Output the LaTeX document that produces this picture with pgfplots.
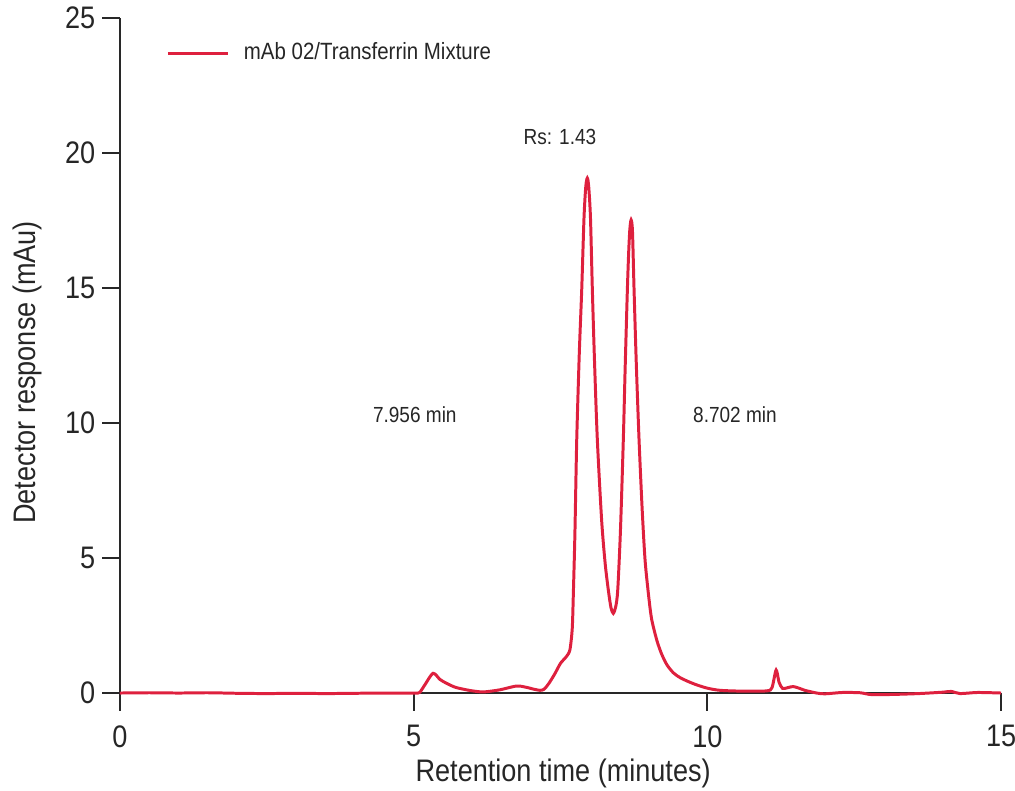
\documentclass[border=0pt]{standalone}
\usepackage{fontspec}
\setmainfont[FakeStretch=0.87]{Liberation Sans}
\usepackage{pgfplots}
\pgfplotsset{compat=1.18}
\definecolor{trace}{RGB}{222,32,62}
\definecolor{axisgray}{RGB}{40,40,40}

\begin{document}
\begin{tikzpicture}
\begin{axis}[
    name=main,
    scale only axis,
    width=266pt,
    height=203.8pt,
    xmin=0, xmax=15,
    ymin=0, ymax=25,
    xtick={0,5,10,15},
    ytick={0,5,10,15,20,25},
    axis lines*=left,
    axis line style={axisgray, line width=0.6pt},
    tick style={axisgray, line width=0.6pt},
    tick align=outside,
    major tick length=5.4pt,
    /pgf/number format/assume math mode=true,
    ticklabel style={font=\fontsize{9.4}{10}\selectfont, text=black!85},
    xticklabel style={yshift=-0.8pt},
    yticklabel style={xshift=1.5pt},
    xlabel={Retention time (minutes)},
    ylabel={Detector response (mAu)},
    every axis x label/.style={at={(axis description cs:0.503,-0.119)}, anchor=center, font=\fontsize{9.4}{10}\selectfont, text=black!85},
    every axis y label/.style={at={(axis description cs:-0.1045,0.475)}, anchor=center, rotate=90, font=\fontsize{9.4}{10}\selectfont, text=black!85},
    legend style={at={(0.052,0.947)}, anchor=west, draw=none, fill=none,
        font=\fontsize{7.1}{8}\selectfont, text=black!85, inner sep=0pt,
        legend cell align=left},
    legend image code/.code={\draw[#1] (0pt,0pt) -- (18pt,0pt); \path (20.5pt,0pt);},
    clip=false,
]
\addplot[trace, line width=0.9pt, smooth, tension=0.45] coordinates {
(0.0,0.00) (0.5,0.01) (1.0,0.00) (1.5,0.01) (2.0,-0.01) (2.5,-0.02)
(3.0,-0.01) (3.5,-0.02) (4.0,-0.01) (4.5,0.00) (5.0,0.00) (5.10,0.02)
(5.19,0.30) (5.33,0.73) (5.45,0.50) (5.56,0.36) (5.70,0.22) (5.85,0.14)
(6.0,0.08) (6.19,0.04) (6.47,0.12) (6.75,0.26) (6.90,0.22) (7.05,0.14)
(7.15,0.10) (7.22,0.14) (7.30,0.35) (7.40,0.70) (7.50,1.10) (7.60,1.35)
(7.66,1.60) (7.70,2.40) (7.72,3.80) (7.745,5.9) (7.776,9.37) (7.82,12.6)
(7.861,14.93) (7.90,17.6) (7.93,18.75) (7.956,19.07) (7.98,18.75) (8.01,17.6)
(8.042,14.93) (8.08,12.2) (8.127,9.37) (8.20,6.4) (8.26,4.8) (8.314,3.81)
(8.36,3.15) (8.399,2.95) (8.44,3.20) (8.474,3.81) (8.52,6.0) (8.569,9.37)
(8.60,12.0) (8.638,14.93) (8.66,16.3) (8.68,17.17) (8.702,17.52) (8.725,17.1)
(8.752,14.93) (8.79,12.2) (8.837,9.37) (8.89,6.8) (8.939,4.93) (8.995,3.70)
(9.05,2.75) (9.14,1.95) (9.22,1.45) (9.31,1.05) (9.42,0.75) (9.535,0.57)
(9.68,0.42) (9.82,0.30) (10.0,0.18) (10.215,0.10) (10.6,0.07) (11.01,0.08)
(11.10,0.20) (11.17,0.85) (11.22,0.40) (11.28,0.17) (11.37,0.20) (11.46,0.24)
(11.56,0.18) (11.66,0.10) (11.86,0.00) (12.0,-0.03) (12.3,0.02) (12.6,0.01)
(12.8,-0.06) (13.2,-0.05) (13.6,-0.02) (14.0,0.03) (14.15,0.06) (14.3,-0.02)
(14.6,0.02) (15.0,0.00)
};
\legend{mAb 02/Transferrin Mixture}
\node[font=\fontsize{6.6}{8}\selectfont, text=black!85] at (axis cs:7.49,20.6) {Rs: 1.43};
\node[font=\fontsize{6.6}{8}\selectfont, text=black!85] at (axis cs:5.02,10.3) {7.956 min};
\node[font=\fontsize{6.6}{8}\selectfont, text=black!85] at (axis cs:10.47,10.3) {8.702 min};
\end{axis}
\pgfresetboundingbox
\path ([shift={(-36.2pt,-29.3pt)}]main.south west) rectangle ([shift={(4.2pt,5.4pt)}]main.north east);
\end{tikzpicture}
\end{document}
